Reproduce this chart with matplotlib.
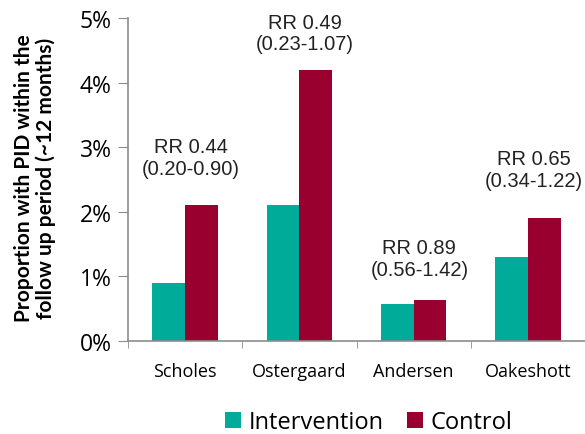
import matplotlib.pyplot as plt
import numpy as np

# study names and PID proportions (%)
studies = ["Scholes", "Ostergaard", "Andersen", "Oakeshott"]
intervention = [0.9, 2.1, 0.57, 1.3]
control = [2.1, 4.2, 0.64, 1.9]
rr_labels = ["RR 0.44\n(0.20-0.90)", "RR 0.49\n(0.23-1.07)",
             "RR 0.89\n(0.56-1.42)", "RR 0.65\n(0.34-1.22)"]
rr_label_y = [2.84, 4.77, 1.28, 2.66]
yticks = [0, 1, 2, 3, 4, 5]

teal = "#00AB9A"
crimson = "#990030"
grey = "#8c8c8c"

fig = plt.figure(figsize=(5.85, 4.35), dpi=100)
ax = fig.add_axes([0.219, 0.214, 0.781, 0.742])

x = np.arange(len(studies))
w = 0.287
ax.bar(x - w / 2, intervention, w, color=teal, label="Intervention")
ax.bar(x + w / 2, control, w, color=crimson, label="Control")

for i, (txt, yy) in enumerate(zip(rr_labels, rr_label_y)):
    ax.text(i + 0.05, yy, txt, ha="center", va="center", fontsize=14.5,
            family="Liberation Sans", linespacing=1.18, color="#222222")

ax.set_xlim(-0.5, len(studies) - 0.5)
ax.set_ylim(0, 5)
ax.set_yticks(yticks)
ax.set_yticklabels([f"{t}%" for t in yticks], family="Open Sans", fontsize=16.5)
ax.set_xticks(x)
ax.set_xticklabels(studies, family="Open Sans", fontsize=13)
ax.set_xticks(np.arange(len(studies) + 1) - 0.5, minor=True)
ax.tick_params(axis="x", which="major", length=0, pad=15)
ax.tick_params(axis="x", which="minor", length=5, color=grey)
ax.tick_params(axis="y", length=7, color=grey, pad=5)

for s in ["top", "right"]:
    ax.spines[s].set_visible(False)
for s in ["left", "bottom"]:
    ax.spines[s].set_color(grey)
    ax.spines[s].set_linewidth(1.2)

fig.text(0.06, 0.59, "Proportion with PID within the\nfollow up period (~12 months)",
         rotation=90, ha="center", va="center", fontsize=15, fontweight="bold",
         family="Lato", linespacing=1.1)

fig.legend(loc="center", bbox_to_anchor=(0.63, 0.027), ncol=2, frameon=False,
           prop={"family": "Open Sans", "size": 17}, handlelength=0.7, handleheight=0.7,
           handletextpad=0.3, columnspacing=1.0)

fig.savefig("out.png", dpi=100)
